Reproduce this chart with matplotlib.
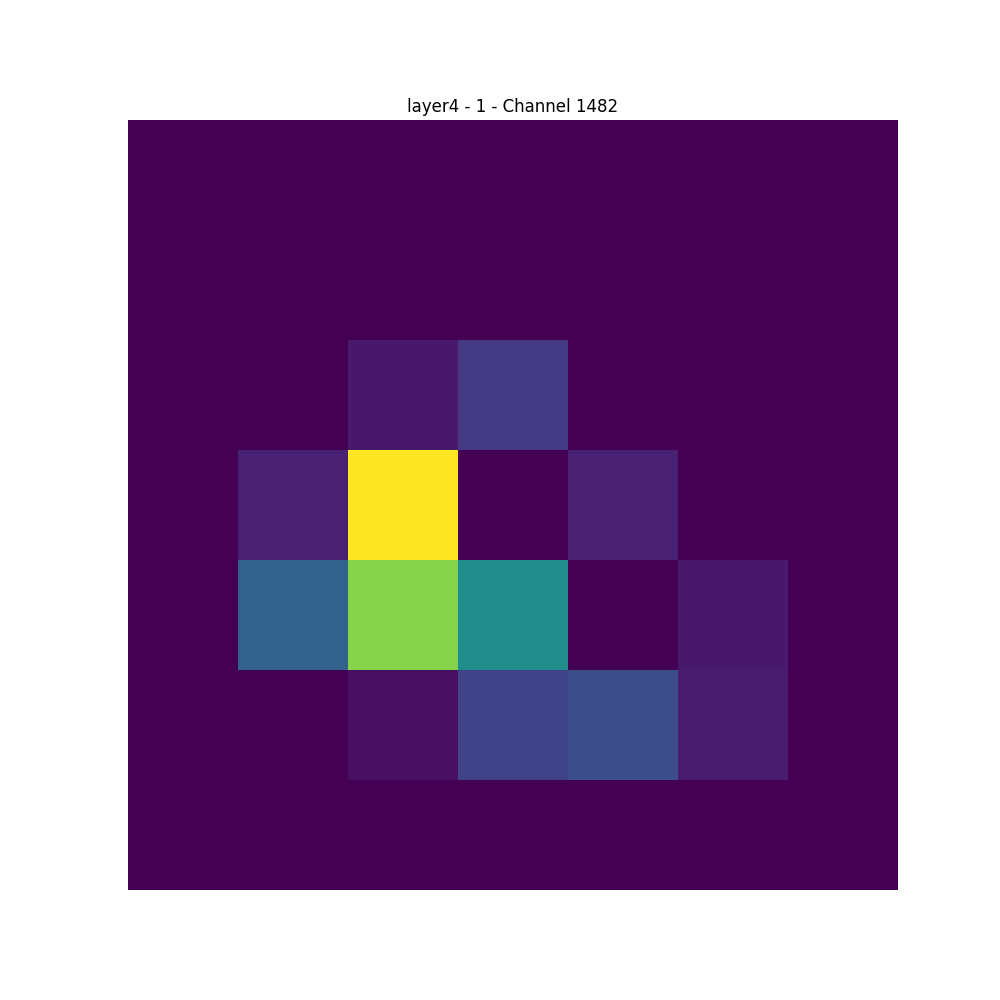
import numpy as np
import matplotlib
matplotlib.use('Agg')
import matplotlib.pyplot as plt

title = 'layer4 - 1 - Channel 1482'

row0 = [0, 0, 0, 0, 0, 0, 0]
row1 = [0, 0, 0, 0, 0, 0, 0]
row2 = [0, 0, 0.07, 0.17, 0, 0, 0]
row3 = [0, 0.09, 1.0, 0, 0.09, 0, 0]
row4 = [0, 0.31, 0.82, 0.49, 0, 0.07, 0]
row5 = [0, 0, 0.04, 0.20, 0.24, 0.08, 0]
row6 = [0, 0, 0, 0, 0, 0, 0]

fmap = np.array([row0, row1, row2, row3, row4, row5, row6])

plt.figure(figsize=(10, 10))
plt.imshow(fmap, cmap='viridis')
plt.title(title)
plt.axis('off')
plt.savefig('out.png', dpi=100)
